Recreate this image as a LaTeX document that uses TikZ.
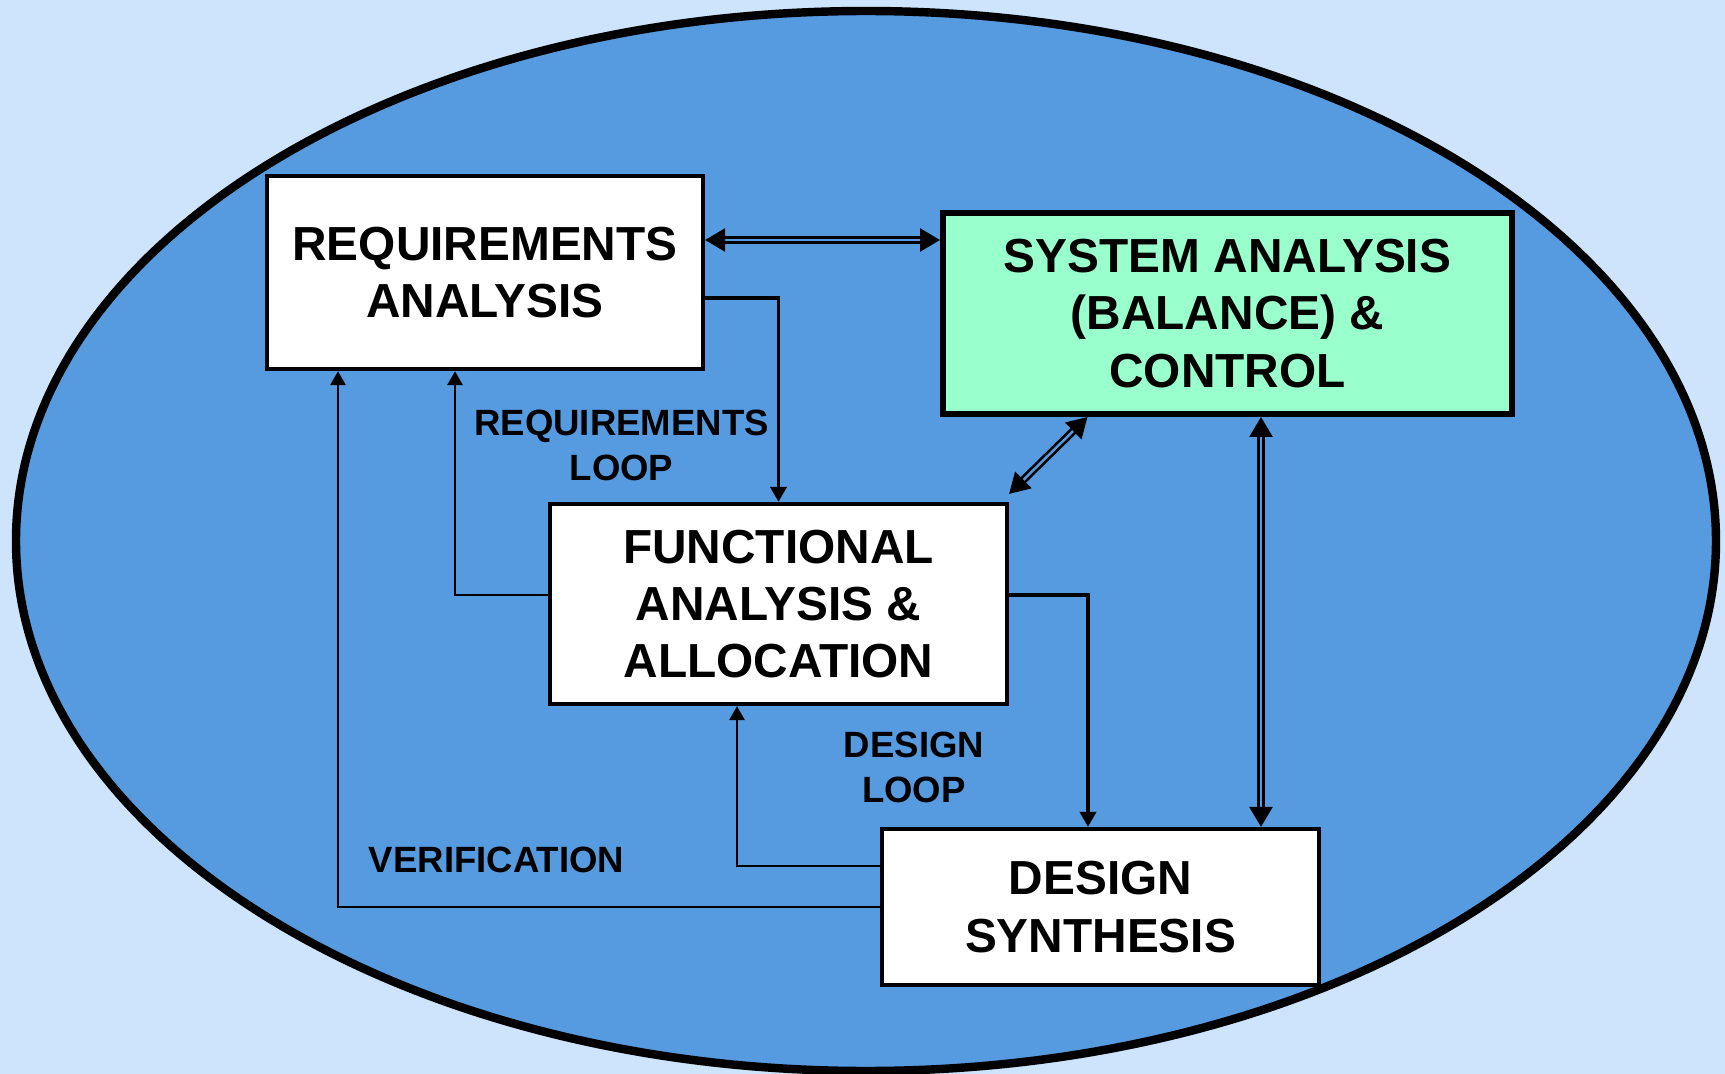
\documentclass[tikz,border=0pt]{standalone}
\usepackage{fontspec}
\setmainfont{Liberation Sans}
\usetikzlibrary{arrows.meta}
\definecolor{paleblue}{RGB}{205,228,252}
\definecolor{skyblue}{RGB}{86,155,224}
\definecolor{mintgreen}{RGB}{153,255,204}

\begin{document}
\begin{tikzpicture}[y=-1cm,
            block/.style={rectangle, draw=black, fill=white, line width=1.2pt, align=center, inner sep=0pt, font=\fontsize{13.6}{16.3}\selectfont\bfseries},
            tag/.style={align=center, inner sep=0pt, font=\fontsize{10.4}{12.8}\selectfont\bfseries},
            flow/.style={-{Triangle[length=0.15cm, width=0.16cm]}, line width=1pt},
            loop/.style={-{Triangle[length=0.14cm, width=0.15cm]}, line width=0.8pt},
            link/.style={{Triangle[length=0.2cm, width=0.23cm]}-{Triangle[length=0.2cm, width=0.23cm]}, line width=0.75pt, double=skyblue, double distance=0.7pt}
        ]
        % background and the big ellipse
        \fill[paleblue] (0,0) rectangle (17.25,10.74);
        \useasboundingbox (0,0) rectangle (17.25,10.74);
        \draw[line width=2.4pt, fill=skyblue] (8.66,5.41) ellipse [x radius=8.5, y radius=5.3];

        \node[block, minimum width=4.36cm, minimum height=1.93cm] (req) at (4.85,2.725) {REQUIREMENTS\\ANALYSIS};
        \node[block, fill=mintgreen, line width=1.7pt, minimum width=5.69cm, minimum height=2.01cm] (sys) at (12.275,3.135) {SYSTEM ANALYSIS\\(BALANCE) \&\\CONTROL};
        \node[block, minimum width=4.57cm, minimum height=2.0cm] (func) at (7.785,6.04) {FUNCTIONAL\\ANALYSIS \&\\ALLOCATION};
        \node[block, minimum width=4.37cm, minimum height=1.56cm] (des) at (11.005,9.07) {DESIGN\\SYNTHESIS};

        \node[tag] (reqloop) at (6.215,4.45) {REQUIREMENTS\\LOOP};
        \node[tag] (desloop) at (9.14,7.67) {DESIGN\\LOOP};
        \node[tag] (verif) at (4.965,8.6) {VERIFICATION};

        % forward flow and loops
        \draw[flow] ([yshift=-0.255cm]req.east) -| (func.north);
        \draw[flow] ([yshift=0.09cm]func.east) -| ([xshift=-0.125cm]des.north);
        \draw[loop] ([yshift=0.09cm]func.west) -| ([xshift=-0.3cm]req.south);
        \draw[loop] ([yshift=0.41cm]des.west) -| ([xshift=-0.415cm]func.south);
        \draw[loop] (des.west) -| ([xshift=-1.47cm]req.south);

        % links to system analysis
        \draw[link] ([yshift=0.325cm]req.east) -- ([yshift=0.325cm]req.east -| sys.west);
        \draw[link] ([yshift=0.08cm]func.north east) -- ([xshift=-1.4cm]sys.south);
        \draw[link] ([xshift=0.335cm]sys.south) -- ([xshift=0.335cm]sys.south |- des.north);
        \end{tikzpicture}
\end{document}
